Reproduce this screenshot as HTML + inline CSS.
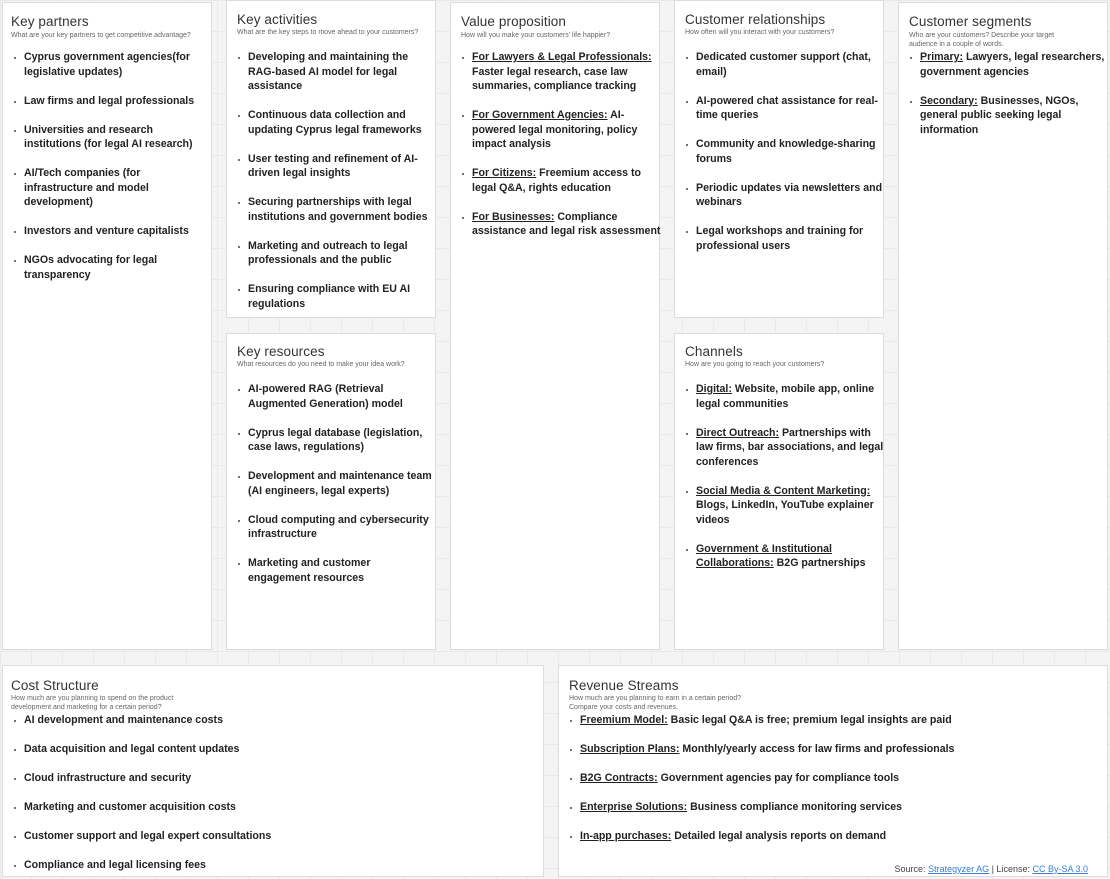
<!DOCTYPE html>
<html><head><meta charset="utf-8"><style>
*{margin:0;padding:0;box-sizing:border-box}
html,body{width:1110px;height:879px;overflow:hidden}
body{position:relative;font-family:"Liberation Sans",sans-serif;color:#222;
background-color:#f4f4f4;
background-image:linear-gradient(#e9e9e9 1px,transparent 1px),linear-gradient(90deg,#e9e9e9 1px,transparent 1px);
background-size:31px 31px;}
.p{position:absolute;background:#fff;border:1px solid #dcdcdc}
.t{position:absolute;font-size:13.5px;color:#333;left:11px;letter-spacing:0.1px}
.s{position:absolute;font-size:7px;color:#666;left:11px;line-height:8.5px}
ul{position:absolute;list-style:none;font-size:10.6px;font-weight:bold;line-height:14.5px;color:#222}
li{position:relative;padding-left:22px;margin-bottom:14.5px}
li:before{content:"";position:absolute;left:12px;top:7px;width:2px;height:2px;background:#444;border-radius:1px}
u{text-decoration:underline}
.f{position:absolute;right:22px;top:864px;font-size:9px;color:#444}
.f a{color:#3a7bd5;text-decoration:underline}
</style></head><body>

<div class="p" style="left:2px;top:2px;width:210px;height:648px"></div>
<div class="t" style="top:14px">Key partners</div>
<div class="s" style="top:32px">What are your key partners to get competitive advantage?</div>
<ul style="left:2px;top:50px;width:208px">
<li>Cyprus government agencies(for legislative updates)</li>
<li>Law firms and legal professionals</li>
<li>Universities and research institutions (for legal AI research)</li>
<li>AI/Tech companies (for infrastructure and model development)</li>
<li>Investors and venture capitalists</li>
<li>NGOs advocating for legal transparency</li>
</ul>

<div class="p" style="left:226px;top:0px;width:210px;height:318px"></div>
<div class="t" style="left:237px;top:12px">Key activities</div>
<div class="s" style="left:237px;top:29px">What are the key steps to move ahead to your customers?</div>
<ul style="left:226px;top:50px;width:210px">
<li>Developing and maintaining the RAG-based AI model for legal assistance</li>
<li>Continuous data collection and updating Cyprus legal frameworks</li>
<li>User testing and refinement of AI-driven legal insights</li>
<li>Securing partnerships with legal institutions and government bodies</li>
<li>Marketing and outreach to legal professionals and the public</li>
<li>Ensuring compliance with EU AI regulations</li>
</ul>

<div class="p" style="left:226px;top:333px;width:210px;height:317px"></div>
<div class="t" style="left:237px;top:344px">Key resources</div>
<div class="s" style="left:237px;top:361px">What resources do you need to make your idea work?</div>
<ul style="left:226px;top:382px;width:212px">
<li>AI-powered RAG (Retrieval Augmented Generation) model</li>
<li>Cyprus legal database (legislation, case laws, regulations)</li>
<li>Development and maintenance team (AI engineers, legal experts)</li>
<li>Cloud computing and cybersecurity infrastructure</li>
<li>Marketing and customer<br>engagement resources</li>
</ul>

<div class="p" style="left:450px;top:2px;width:210px;height:648px"></div>
<div class="t" style="left:461px;top:14px">Value proposition</div>
<div class="s" style="left:461px;top:32px">How will you make your customers' life happier?</div>
<ul style="left:450px;top:50px;width:212px">
<li><u>For Lawyers &amp; Legal Professionals:</u> Faster legal research, case law summaries, compliance tracking</li>
<li><u>For Government Agencies:</u> AI-powered legal monitoring, policy impact analysis</li>
<li><u>For Citizens:</u> Freemium access to legal Q&amp;A, rights education</li>
<li><u>For Businesses:</u> Compliance assistance and legal risk assessment</li>
</ul>

<div class="p" style="left:674px;top:0px;width:210px;height:318px"></div>
<div class="t" style="left:685px;top:12px">Customer relationships</div>
<div class="s" style="left:685px;top:29px">How often will you interact with your customers?</div>
<ul style="left:674px;top:50px;width:212px">
<li>Dedicated customer support (chat, email)</li>
<li>AI-powered chat assistance for real-time queries</li>
<li>Community and knowledge-sharing forums</li>
<li>Periodic updates via newsletters and webinars</li>
<li>Legal workshops and training for professional users</li>
</ul>

<div class="p" style="left:674px;top:333px;width:210px;height:317px"></div>
<div class="t" style="left:685px;top:344px">Channels</div>
<div class="s" style="left:685px;top:361px">How are you going to reach your customers?</div>
<ul style="left:674px;top:382px;width:212px">
<li><u>Digital:</u> Website, mobile app, online legal communities</li>
<li><u>Direct Outreach:</u> Partnerships with law firms, bar associations, and legal conferences</li>
<li><u>Social Media &amp; Content Marketing:</u> Blogs, LinkedIn, YouTube explainer videos</li>
<li><u>Government &amp; Institutional Collaborations:</u> B2G partnerships</li>
</ul>

<div class="p" style="left:898px;top:2px;width:210px;height:648px"></div>
<div class="t" style="left:909px;top:14px">Customer segments</div>
<div class="s" style="left:909px;top:32px;width:150px">Who are your customers? Describe your target audience in a couple of words.</div>
<ul style="left:898px;top:50px;width:212px">
<li><u>Primary:</u> Lawyers, legal researchers, government agencies</li>
<li><u>Secondary:</u> Businesses, NGOs, general public seeking legal information</li>
</ul>

<div class="p" style="left:2px;top:665px;width:542px;height:212px"></div>
<div class="t" style="top:678px">Cost Structure</div>
<div class="s" style="top:695px;width:180px">How much are you planning to spend on the product development and marketing for a certain period?</div>
<ul style="left:2px;top:713px;width:500px">
<li>AI development and maintenance costs</li>
<li>Data acquisition and legal content updates</li>
<li>Cloud infrastructure and security</li>
<li>Marketing and customer acquisition costs</li>
<li>Customer support and legal expert consultations</li>
<li>Compliance and legal licensing fees</li>
</ul>

<div class="p" style="left:558px;top:665px;width:550px;height:212px"></div>
<div class="t" style="left:569px;top:678px">Revenue Streams</div>
<div class="s" style="left:569px;top:695px">How much are you planning to earn in a certain period?<br>Compare your costs and revenues.</div>
<ul style="left:558px;top:713px;width:540px">
<li><u>Freemium Model:</u> Basic legal Q&amp;A is free; premium legal insights are paid</li>
<li><u>Subscription Plans:</u> Monthly/yearly access for law firms and professionals</li>
<li><u>B2G Contracts:</u> Government agencies pay for compliance tools</li>
<li><u>Enterprise Solutions:</u> Business compliance monitoring services</li>
<li><u>In-app purchases:</u> Detailed legal analysis reports on demand</li>
</ul>
<div class="f">Source: <a>Strategyzer AG</a> | License: <a>CC By-SA 3.0</a></div>
</body></html>
